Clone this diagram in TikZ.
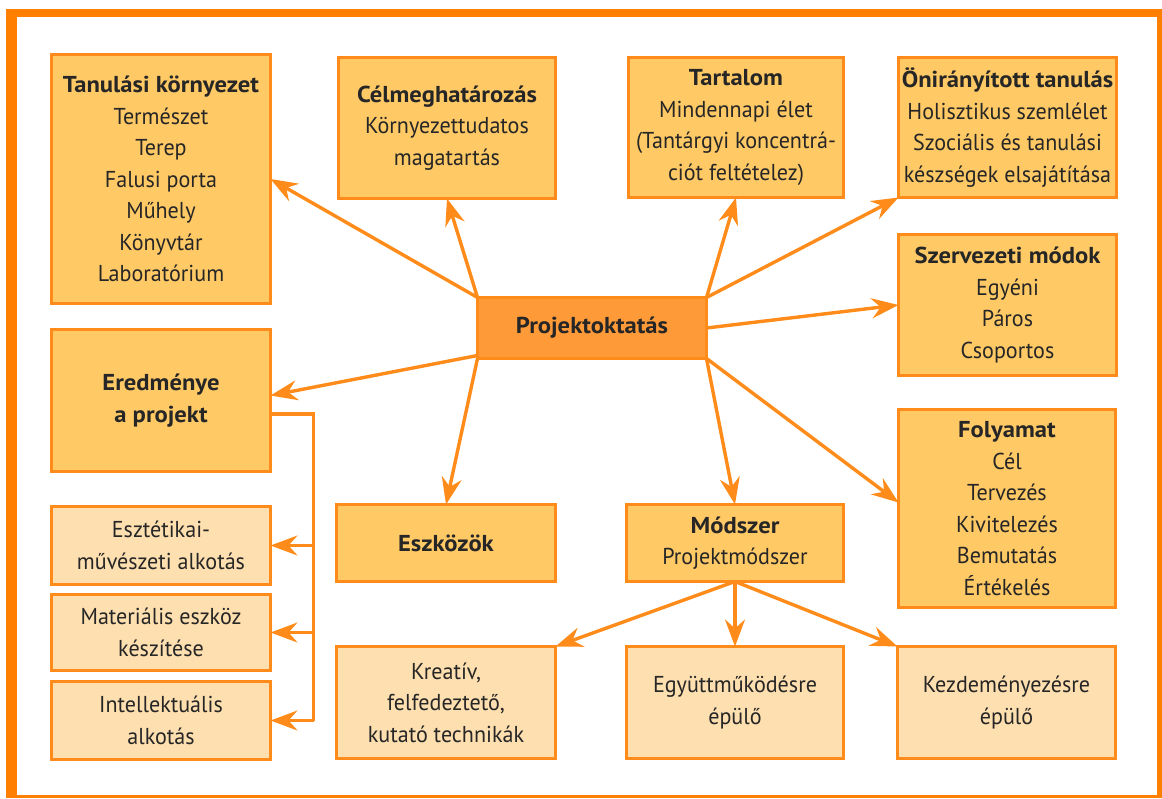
\documentclass[tikz,border=0pt]{standalone}
\usepackage{fontspec}
\setmainfont{PT Sans}[FakeStretch=0.96,BoldFeatures={FakeStretch=1.07}]
\usetikzlibrary{arrows.meta,calc}
\definecolor{frameor}{HTML}{FF8000}
\definecolor{edgeor}{HTML}{FF8C1A}
\definecolor{boxfill}{HTML}{FFC966}
\definecolor{hubfill}{HTML}{FF9A38}
\definecolor{palefill}{HTML}{FEDFB0}
\definecolor{ink}{HTML}{262626}

\begin{document}
\begin{tikzpicture}[x=1pt,y=-1pt,
  every node/.style={inner sep=0pt,outer sep=0pt},
  box/.style={draw=edgeor,line width=3pt,fill=boxfill,align=center,
    text=ink,font=\fontsize{23}{31.5}\selectfont},
  pale/.style={box,fill=palefill},
  hub/.style={box,fill=hubfill},
  link/.style={draw=edgeor,line width=3.4pt},
  arr/.style={link,-{Stealth[length=27pt,width=20pt,inset=9pt]}}]

% page and frame
\useasboundingbox (0,0) rectangle (1162,798);
\fill[white] (0,0) rectangle (1162,798);
\fill[frameor] (6,9) rectangle (1162,17);
\fill[frameor] (6,9) rectangle (17,798);
\fill[frameor] (1157,9) rectangle (1162,798);
\fill[frameor] (6,795) rectangle (1162,798);

% central node
\node[hub,minimum width=229pt,minimum height=61pt] (hub) at (592,328)
  {\textbf{Projektoktatás}};

% top row
\node[box,minimum width=219pt,minimum height=249pt] (tan) at (161,179)
  {\textbf{Tanulási környezet}\\Természet\\Terep\\Falusi porta\\Műhely\\Könyvtár\\Laboratórium};
\node[box,minimum width=217pt,minimum height=141pt] (cel) at (447,128)
  {\textbf{Célmeghatározás}\\Környezettudatos\\magatartás};
\node[box,minimum width=215pt,minimum height=140pt] (tar) at (736,127.5)
  {\textbf{Tartalom}\\Mindennapi élet\\(Tantárgyi koncentrá-\\ciót feltételez)};
\node[box,minimum width=218pt,minimum height=140pt] (oni) at (1007.5,127.5)
  {\textbf{Önirányított tanulás}\\Holisztikus szemlélet\\Szociális és tanulási\\készségek elsajátítása};

% right column
\node[box,minimum width=218pt,minimum height=141pt] (szer) at (1007.5,305)
  {\textbf{Szervezeti módok}\\Egyéni\\Páros\\Csoportos};
\node[box,minimum width=217pt,minimum height=198pt] (fol) at (1007,508.5)
  {\textbf{Folyamat}\\Cél\\Tervezés\\Kivitelezés\\Bemutatás\\Értékelés};

% left column
\node[box,minimum width=219pt,minimum height=142pt] (ered) at (161,400.5)
  {\textbf{Eredménye}\\\textbf{a projekt}};
\node[pale,minimum width=219pt,minimum height=78pt] (eszt) at (161,545.5)
  {Esztétikai-\\művészeti alkotás};
\node[pale,minimum width=219pt,minimum height=76pt] (mat) at (161,632.5)
  {Materiális eszköz\\készítése};
\node[pale,minimum width=219pt,minimum height=78pt] (int) at (161,720.5)
  {Intellektuális\\alkotás};

% bottom middle
\node[box,minimum width=219pt,minimum height=77pt] (eszk) at (446,543)
  {\textbf{Eszközök}};
\node[box,minimum width=217pt,minimum height=77pt] (mod) at (735,543)
  {\textbf{Módszer}\\Projektmódszer};
\node[pale,minimum width=219pt,minimum height=112pt] (kre) at (446,702.5)
  {Kreatív,\\felfedeztető,\\kutató technikák};
\node[pale,minimum width=217pt,minimum height=112pt] (egy) at (735,702.5)
  {Együttműködésre\\épülő};
\node[pale,minimum width=218pt,minimum height=112pt] (kez) at (1006.5,702.5)
  {Kezdeményezésre\\épülő};

% spokes from the central node
\draw[arr] (hub.north west) -- (tan.east);
\draw[arr] (hub.north west) -- (cel.south);
\draw[arr] (hub.north east) -- (tar.south);
\draw[arr] (hub.north east) -- (oni.south west);
\draw[arr] (hub.east) -- (szer.west);
\draw[arr] ([yshift=3pt]hub.south west) -- ([yshift=5pt]ered.east);
\draw[arr] (hub.south west) -- (eszk.north);
\draw[arr] (hub.south east) -- (mod.north);
\draw[arr] (hub.south east) -- ([yshift=6pt]fol.west);

% method branches
\draw[arr] (mod.south) -- (kre.north east);
\draw[arr] (mod.south) -- (egy.north);
\draw[arr] (mod.south) -- (kez.north west);

% result bus
\coordinate (bustop) at ($(ered.east)+(43,13.5)$);
\draw[link] ($(ered.east)+(0,13.5)$) -- (bustop) -- (bustop |- int.east);
\draw[arr] (bustop |- eszt.east) -- (eszt.east);
\draw[arr] (bustop |- mat.east) -- (mat.east);
\draw[arr] (bustop |- int.east) -- (int.east);
\end{tikzpicture}
\end{document}
